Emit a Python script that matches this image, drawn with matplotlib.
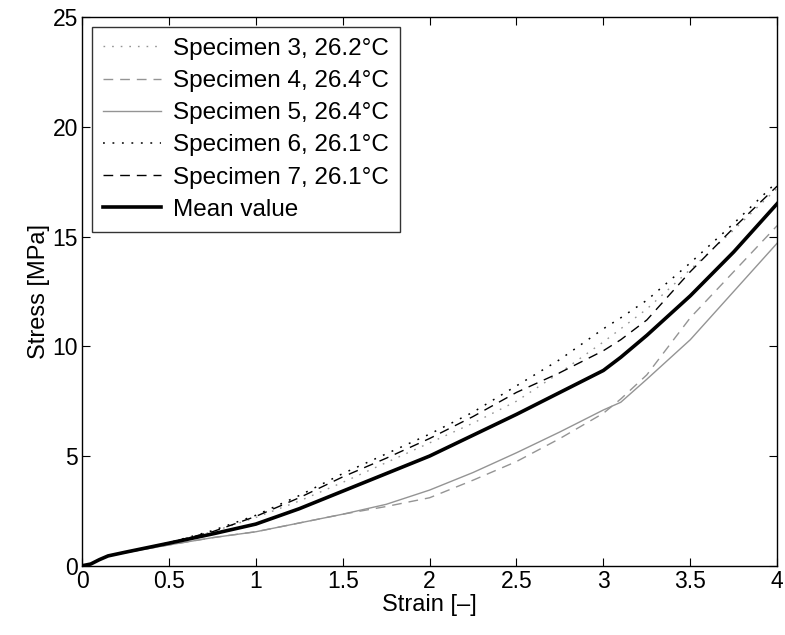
import matplotlib
matplotlib.use("Agg")
import matplotlib.pyplot as plt

plt.rcParams["font.family"] = ["Liberation Sans", "DejaVu Sans"]

# strain values
strain = [0, 0.05, 0.1, 0.15, 0.25, 0.5, 0.75, 1.0, 1.25, 1.5, 1.75, 2.0,
          2.25, 2.5, 2.75, 3.0, 3.1, 3.25, 3.5, 3.75, 4.0]

spec3 = [0, 0.08, 0.28, 0.45, 0.62, 1.05, 1.55, 2.2, 2.95, 3.8, 4.7, 5.6,
         6.5, 7.5, 8.8, 10.2, 10.8, 11.7, 13.5, 15.3, 17.2]
spec4 = [0, 0.08, 0.28, 0.45, 0.6, 0.95, 1.28, 1.55, 1.95, 2.35, 2.7, 3.1,
         3.9, 4.75, 5.8, 6.95, 7.6, 8.7, 11.3, 13.4, 15.5]
spec5 = [0, 0.08, 0.28, 0.45, 0.6, 0.95, 1.28, 1.55, 1.95, 2.35, 2.8, 3.45,
         4.25, 5.15, 6.1, 7.1, 7.45, 8.5, 10.3, 12.5, 14.7]
spec6 = [0, 0.08, 0.28, 0.45, 0.62, 1.05, 1.6, 2.3, 3.2, 4.2, 5.1, 6.0,
         7.0, 8.2, 9.4, 10.8, 11.3, 12.1, 13.8, 15.6, 17.5]
spec7 = [0, 0.08, 0.28, 0.45, 0.62, 1.05, 1.55, 2.25, 3.1, 4.05, 4.9, 5.8,
         6.8, 7.9, 8.8, 9.8, 10.3, 11.2, 13.4, 15.4, 17.3]
mean_val = [0, 0.08, 0.28, 0.45, 0.62, 1.03, 1.45, 1.9, 2.6, 3.4, 4.2, 5.0,
            5.95, 6.9, 7.9, 8.9, 9.5, 10.5, 12.3, 14.3, 16.5]

labels = ["Specimen 3, 26.2\u00b0C", "Specimen 4, 26.4\u00b0C",
          "Specimen 5, 26.4\u00b0C", "Specimen 6, 26.1\u00b0C",
          "Specimen 7, 26.1\u00b0C", "Mean value"]

fig = plt.figure(figsize=(7.85, 6.35), dpi=100)
ax = fig.add_axes([0.1045, 0.109, 0.8855, 0.864])

gray = "0.58"
dot = (1.2, 5)     # sparse dots like the original
dash = (7, 5)
ax.plot(strain, spec3, color=gray, lw=1.0, dashes=dot, label=labels[0])
ax.plot(strain, spec4, color=gray, lw=1.0, dashes=dash, label=labels[1])
ax.plot(strain, spec5, "-", color=gray, lw=1.0, label=labels[2])
ax.plot(strain, spec6, color="k", lw=1.1, dashes=dot, label=labels[3])
ax.plot(strain, spec7, color="k", lw=1.0, dashes=dash, label=labels[4])
ax.plot(strain, mean_val, "-", color="k", lw=2.6, label=labels[5])

ax.set_xlim(0, 4)
ax.set_ylim(0, 25)
ax.set_xticks([0, 0.5, 1, 1.5, 2, 2.5, 3, 3.5, 4])
ax.set_xticklabels(["0", "0.5", "1", "1.5", "2", "2.5", "3", "3.5", "4"])
ax.set_yticks([0, 5, 10, 15, 20, 25])
ax.tick_params(direction="in", top=True, right=True, labelsize=16.5, length=6,
               width=0.8, pad=3)
for s in ax.spines.values():
    s.set_linewidth(1.0)
ax.set_xlabel("Strain [\u2013]", fontsize=17, labelpad=1)
ax.set_ylabel("Stress [MPa]", fontsize=17, labelpad=2)

leg = ax.legend(loc="upper left", fontsize=17.5, frameon=True, fancybox=False,
                handlelength=2.4, handletextpad=0.5, labelspacing=0.42,
                borderaxespad=0.4, borderpad=0.45)
leg.get_frame().set_edgecolor("k")
leg.get_frame().set_linewidth(1.0)

fig.savefig("out.png", dpi=100)
